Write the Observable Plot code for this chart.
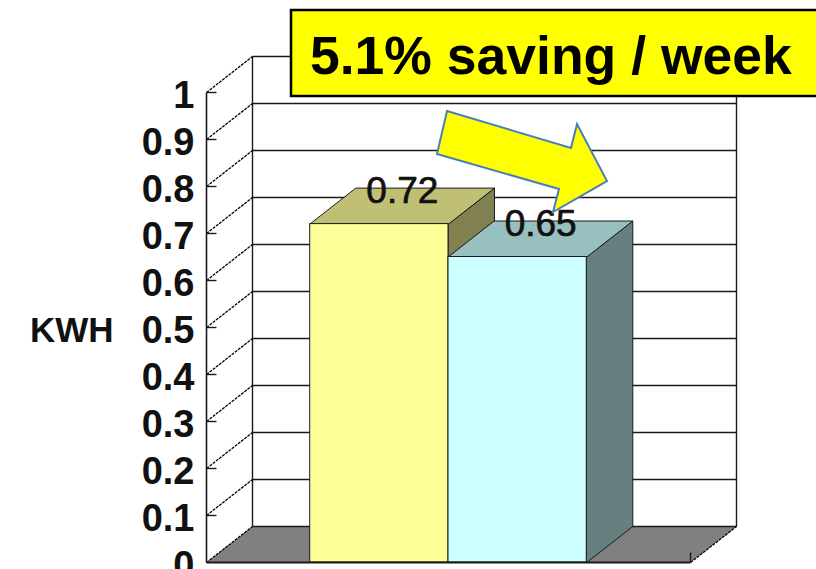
<!DOCTYPE html>
<html>
<head>
<meta charset="utf-8">
<script src="https://cdn.jsdelivr.net/npm/d3@7"></script>
<script src="https://cdn.jsdelivr.net/npm/@observablehq/plot@0.6"></script>
<style>
  html, body { margin: 0; padding: 0; background: #ffffff; }
  #wrap { position: relative; width: 816px; height: 569px; overflow: hidden;
          font-family: "Liberation Sans", Arial, sans-serif; }
  #wrap svg { position: absolute; left: 0; top: 0; overflow: visible; }
</style>
</head>
<body>
<div id="wrap"></div>
<script>
// ---------------- data ----------------
const series = ["Before", "After"];
const values = [0.72, 0.65];
const valueLabels = ["0.72", "0.65"];
const yTicks = [0, 0.1, 0.2, 0.3, 0.4, 0.5, 0.6, 0.7, 0.8, 0.9, 1];
const yTickLabels = ["0", "0.1", "0.2", "0.3", "0.4", "0.5", "0.6", "0.7", "0.8", "0.9", "1"];
const yLabel = "KWH";
const titleText = "5.1% saving / week";

// ---------------- styles / layout ----------------
const frontColors = ["#FFFF99", "#CCFFFF"];
const topColors   = ["#C0C075", "#99C0C0"];
const sideColors  = ["#808050", "#668080"];
const W = 816, H = 569;
const mLeft = 206, mRight = 126, mTop = 92, mBottom = 7;
const outer = 0.75;                         // outer padding in bar widths
const xl = -outer, xr = series.length + outer;
const pxPerX = (W - mLeft - mRight) / (xr - xl);
const pxPerY = (H - mTop - mBottom);
const DX = 46 / pxPerX;                     // depth, x units
const DY = 36 / pxPerY;                     // depth, y units
const tickLenX = 10 / pxPerX;

const bars = series.map((s, i) => ({s, i, v: values[i], label: valueLabels[i]}));

const sides = bars.flatMap(b => [
  {id: b.s, x: b.i + 1, y: 0, c: sideColors[b.i]},
  {id: b.s, x: b.i + 1 + DX, y: DY, c: sideColors[b.i]},
  {id: b.s, x: b.i + 1 + DX, y: b.v + DY, c: sideColors[b.i]},
  {id: b.s, x: b.i + 1, y: b.v, c: sideColors[b.i]}
]);
const tops = bars.flatMap(b => [
  {id: b.s, x: b.i, y: b.v, c: topColors[b.i]},
  {id: b.s, x: b.i + 1, y: b.v, c: topColors[b.i]},
  {id: b.s, x: b.i + 1 + DX, y: b.v + DY, c: topColors[b.i]},
  {id: b.s, x: b.i + DX, y: b.v + DY, c: topColors[b.i]}
]);
const floor = [
  {x: xl, y: 0}, {x: xr, y: 0}, {x: xr + DX, y: DY}, {x: xl + DX, y: DY}
];
const gridTicks = yTicks.filter(t => t > 0);

const ink = "#1a1a1a";
const chart = Plot.plot({
  width: W, height: H,
  marginLeft: mLeft, marginRight: mRight, marginTop: mTop, marginBottom: mBottom,
  style: {fontFamily: "'Liberation Sans', Arial, sans-serif", background: "transparent", overflow: "visible"},
  x: {type: "linear", domain: [xl, xr], axis: null},
  y: {type: "linear", domain: [0, 1]},
  marks: [
    // floor
    Plot.line(floor, {x: "x", y: "y", fill: "#808080", stroke: "none", curve: "linear-closed"}),
    // back wall gridlines
    Plot.link(gridTicks, {x1: xl + DX, x2: xr + DX, y1: d => d + DY, y2: d => d + DY, stroke: ink, strokeWidth: 1.4}),
    Plot.link([xl + DX, xr + DX], {x1: d => d, x2: d => d, y1: DY, y2: 1 + DY, stroke: ink, strokeWidth: 1.4}),
    // left wall diagonals
    Plot.link(yTicks, {x1: xl, y1: d => d, x2: xl + DX, y2: d => d + DY, stroke: "#000", strokeWidth: 1.3, strokeDasharray: "3,1"}),
    // floor edges
    Plot.link([0], {x1: xl + DX, x2: xr + DX, y1: DY, y2: DY, stroke: ink, strokeWidth: 1.4}),
    Plot.link([0], {x1: xr, y1: 0, x2: xr + DX, y2: DY, stroke: "#000", strokeWidth: 1.3, strokeDasharray: "3,1"}),
    // front axis + ticks
    Plot.link(gridTicks, {x1: xl, x2: xl + tickLenX, y1: d => d, y2: d => d, stroke: ink, strokeWidth: 1.4}),
    Plot.link([0], {x1: xl, x2: xl, y1: 0, y2: 1, stroke: ink, strokeWidth: 1.6}),
    Plot.link([0], {x1: xr, x2: xr, y1: 0, y2: 10 / pxPerY, stroke: ink, strokeWidth: 1.4}),
    // bars: sides, tops, fronts
    Plot.line(sides, {x: "x", y: "y", z: "id", fill: "c", stroke: ink, strokeWidth: 1, curve: "linear-closed"}),
    Plot.line(tops, {x: "x", y: "y", z: "id", fill: "c", stroke: ink, strokeWidth: 1, curve: "linear-closed"}),
    Plot.rect(bars, {x1: d => d.i, x2: d => d.i + 1, y1: 0, y2: "v", fill: d => frontColors[d.i], stroke: ink, strokeWidth: 1}),
    // front floor line
    Plot.link([0], {x1: xl, x2: xr, y1: 0, y2: 0, stroke: ink, strokeWidth: 1.8}),
    // value labels
    Plot.text(bars, {x: d => d.i + 0.5 + DX / 2, y: d => d.v + DY / 2, text: "label",
      lineAnchor: "bottom", dy: -3, fontSize: 37, fill: "#111", stroke: "#111", strokeWidth: 0.7}),
    // y axis
    Plot.axisY(yTicks, {ticks: yTicks, tickFormat: d => yTickLabels[yTicks.indexOf(d)],
      tickSize: 0, tickPadding: 12, fontSize: 38, fontWeight: "bold", dy: 3, fill: "#111", label: null}),
    Plot.text([yLabel], {x: xl, y: 0.5, text: d => d, textAnchor: "end", dx: -93, dy: 3,
      fontSize: 35, fontWeight: "bold", fill: "#111"})
  ]
});
document.getElementById("wrap").appendChild(chart);

// ---------------- annotation overlay: title box + arrow ----------------
const ov = d3.select("#wrap").append("svg").attr("width", W).attr("height", H);
ov.append("polygon")
  .attr("points", [[447,111],[571,148],[577,124],[607,181],[553,212],[559,189],[437,154]].map(p => p.join(",")).join(" "))
  .attr("fill", "#FFFF00").attr("stroke", "#4A7EBB").attr("stroke-width", 2).attr("stroke-linejoin", "miter");
ov.append("rect").attr("x", 291).attr("y", 10).attr("width", 560).attr("height", 86)
  .attr("fill", "#FFFF00").attr("stroke", "#000").attr("stroke-width", 2.5);
ov.append("text").attr("x", 310).attr("y", 74)
  .attr("font-family", "'Liberation Sans', Arial, sans-serif").attr("font-weight", "bold")
  .attr("font-size", 53.5).attr("fill", "#000").text(titleText);
</script>
</body>
</html>
